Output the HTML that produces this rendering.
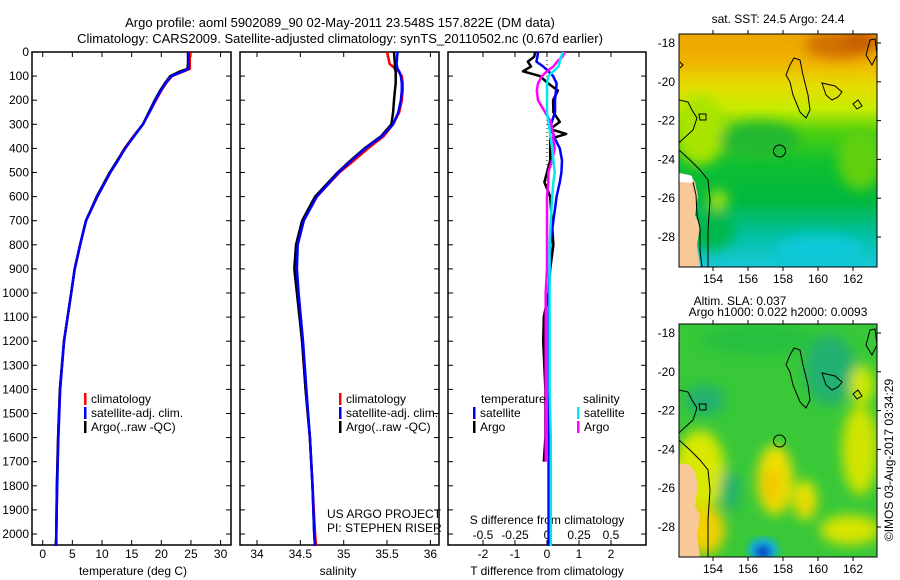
<!DOCTYPE html>
<html><head><meta charset="utf-8"><style>
body{margin:0;background:#fff;}
svg{display:block;font-family:"Liberation Sans",sans-serif;}
text{fill:#000;}
</style></head><body>
<svg id="chart" width="900" height="580" viewBox="0 0 900 580" xmlns="http://www.w3.org/2000/svg">
<defs>
<linearGradient id="sstGrad" x1="0" y1="0" x2="0" y2="1">
<stop offset="0" stop-color="#eea400"/><stop offset="0.12" stop-color="#f0b400"/><stop offset="0.22" stop-color="#e6dc00"/><stop offset="0.32" stop-color="#c8ec00"/><stop offset="0.42" stop-color="#50d010"/><stop offset="0.55" stop-color="#10c030"/><stop offset="0.72" stop-color="#00b840"/><stop offset="0.86" stop-color="#00c0a0"/><stop offset="1" stop-color="#18c8d8"/>
</linearGradient>
<filter id="blur6"><feGaussianBlur stdDeviation="6"/></filter>
<filter id="blur4"><feGaussianBlur stdDeviation="4"/></filter>
<clipPath id="clipMap1"><rect x="679" y="34" width="198" height="233"/></clipPath>
<clipPath id="clipMap2"><rect x="679" y="324" width="198" height="233"/></clipPath>
</defs>
<text x="340" y="27" text-anchor="middle" font-size="13">Argo profile: aoml 5902089_90 02-May-2011 23.548S 157.822E (DM data)</text>
<text x="340" y="43" text-anchor="middle" font-size="13">Climatology: CARS2009. Satellite-adjusted climatology: synTS_20110502.nc (0.67d earlier)</text>
<g id="g1"></g>
<g id="g2"></g>
<g id="g3"></g>

<g>
<g clip-path="url(#clipMap1)">
<rect x="679" y="34" width="198" height="233" fill="url(#sstGrad)"/>
<g filter="url(#blur6)">
<ellipse cx="840" cy="45" rx="35" ry="14" fill="#d07000"/>
<ellipse cx="860" cy="40" rx="18" ry="10" fill="#c85a00"/>
<ellipse cx="700" cy="130" rx="25" ry="35" fill="#a8e400"/>
<ellipse cx="760" cy="140" rx="40" ry="18" fill="#20b830"/>
<ellipse cx="860" cy="160" rx="22" ry="30" fill="#60d010"/>
<ellipse cx="718" cy="200" rx="10" ry="10" fill="#a0e010"/>
<ellipse cx="820" cy="250" rx="45" ry="15" fill="#10c8d8"/>
<ellipse cx="710" cy="230" rx="25" ry="20" fill="#00b848"/>
</g>
<polygon points="679,173 690,175 695,182 698,196 695,215 700,226 697,245 700,267 679,267" fill="#f8c898"/>
<polygon points="679,173 692,176 693,183 679,182" fill="#fff"/>
<g fill="none" stroke="#000" stroke-width="1">
<path d="M679,100 L688,102 L692,110 L697,118 L693,130 L682,140 L679,143"/>
<path d="M679,150 L690,160 L700,170 L708,180 L710,200 L708,230 L708,267"/>
<path d="M693,182 L696,195 L697,215 L700,228 L700,250 L702,267"/>
<path d="M794,58 L800,60 L803,75 L808,95 L810,110 L806,118 L800,112 L793,95 L790,82 L786,75 L790,65 Z"/>
<path d="M822,83 L835,86 L842,92 L838,97 L832,100 L826,95 Z"/>
<path d="M853,104 L858,100 L862,106 L857,109 Z"/>
<path d="M699,114 L706,114 L706,120 L700,120 Z"/>
<path d="M870,40 L875,39 L877,55 L872,65 L866,55 Z"/>
<path d="M680,62 L683,65 L680,68"/>
<circle cx="779.5" cy="151" r="6"/>
</g>
</g>
<rect x="679" y="34" width="198" height="233" fill="none" stroke="#000" stroke-width="1"/>
</g>

<g>
<g clip-path="url(#clipMap2)">
<rect x="679" y="324" width="198" height="233" fill="#38c838"/>
<g filter="url(#blur6)">
<ellipse cx="760" cy="340" rx="60" ry="15" fill="#28c040"/>
<ellipse cx="830" cy="370" rx="25" ry="35" fill="#20b070"/>
<ellipse cx="705" cy="400" rx="20" ry="15" fill="#20b070"/>
<ellipse cx="775" cy="480" rx="18" ry="35" fill="#f0e000"/>
<ellipse cx="772" cy="485" rx="10" ry="18" fill="#f0c800"/>
<ellipse cx="805" cy="500" rx="12" ry="20" fill="#e8e400"/>
<ellipse cx="805" cy="505" rx="6" ry="8" fill="#f0d000"/>
<ellipse cx="700" cy="470" rx="25" ry="40" fill="#d8e800"/>
<ellipse cx="705" cy="530" rx="20" ry="25" fill="#f0d000"/>
<ellipse cx="860" cy="450" rx="18" ry="45" fill="#d0e400"/>
<ellipse cx="850" cy="530" rx="30" ry="15" fill="#d8e400"/>
<ellipse cx="730" cy="490" rx="10" ry="20" fill="#20b070"/>
<ellipse cx="862" cy="385" rx="12" ry="20" fill="#d0e800"/>
</g>
<g filter="url(#blur4)">
<ellipse cx="763" cy="550" rx="15" ry="12" fill="#10b0e8"/>
<ellipse cx="763" cy="552" rx="8" ry="7" fill="#1030c0"/>
</g>
<polygon points="679,463 690,465 695,472 698,486 695,505 700,516 697,535 700,557 679,557" fill="#f8c898"/>
<g fill="none" stroke="#000" stroke-width="1">
<path d="M679,390 L688,392 L692,400 L697,408 L693,420 L682,430 L679,433"/>
<path d="M679,440 L690,450 L700,460 L708,470 L710,490 L708,520 L708,557"/>
<path d="M794,348 L800,350 L803,365 L808,385 L810,400 L806,408 L800,402 L793,385 L790,372 L786,365 L790,355 Z"/>
<path d="M822,373 L835,376 L842,382 L838,387 L832,390 L826,385 Z"/>
<path d="M853,394 L858,390 L862,396 L857,399 Z"/>
<path d="M699,404 L706,404 L706,410 L700,410 Z"/>
<path d="M870,330 L875,329 L877,345 L872,355 L866,345 Z"/>
<circle cx="779.5" cy="441" r="6"/>
</g>
</g>
<rect x="679" y="324" width="198" height="233" fill="none" stroke="#000" stroke-width="1"/>
</g>

<text x="778" y="23" text-anchor="middle" font-size="12">sat. SST: 24.5 Argo: 24.4</text>
<text x="740" y="305" text-anchor="middle" font-size="12">Altim. SLA: 0.037</text>
<text x="778" y="316" text-anchor="middle" font-size="12">Argo h1000: 0.022 h2000: 0.0093</text>
<text transform="translate(893,460) rotate(-90)" text-anchor="middle" font-size="12">©IMOS 03-Aug-2017 03:34:29</text>
<g id="mapAxes"></g>
</svg>
<script>
// ---- data ----
const depths = [0,50,70,80,100,130,160,200,250,300,350,400,450,500,600,700,800,900,1000,1200,1400,1600,1800,2000,2050];
const tempClim = [24.8,24.8,24.8,23.8,21.8,20.8,20.0,19.1,18.0,16.9,15.3,13.8,12.6,11.4,9.2,7.3,6.3,5.4,4.8,3.6,2.9,2.6,2.4,2.3,2.3];
const tempSat  = [24.6,24.6,24.6,23.7,21.7,20.7,19.9,19.0,18.0,16.9,15.4,13.9,12.7,11.4,9.2,7.3,6.3,5.4,4.8,3.6,2.95,2.65,2.45,2.3,2.3];
const tempArgo = [24.5,24.5,24.4,23.2,21.5,20.6,19.8,18.9,17.9,16.9,15.4,13.9,12.6,11.3,9.1,7.3,6.3,5.4,4.8,3.6,2.9,2.6,2.4,2.3,2.2];
const salClim = [35.5,35.53,35.6,35.63,35.67,35.68,35.68,35.67,35.64,35.57,35.46,35.28,35.12,34.95,34.69,34.53,34.46,34.45,34.47,34.52,34.56,34.61,34.64,34.67,34.68];
const salSat  = [35.62,35.61,35.62,35.64,35.66,35.67,35.67,35.66,35.63,35.57,35.44,35.25,35.09,34.94,34.69,34.54,34.47,34.46,34.48,34.53,34.57,34.61,34.64,34.66,34.67];
const salArgo = [35.58,35.59,35.59,35.6,35.6,35.6,35.59,35.58,35.57,35.55,35.43,35.24,35.08,34.93,34.67,34.52,34.45,34.43,34.46,34.52,34.56,34.61,34.64,34.66,34.67];
const diffDepths = [0,20,40,60,80,100,130,160,200,250,290,320,340,360,400,450,500,540,600,700,800,900,1000,1100,1200,1400,1600,1700,2050];
const dTArgo = [-0.37,-0.4,-0.6,-0.5,-0.75,-0.22,0.03,0.34,0.19,0.2,0.4,0.1,0.6,0.1,0.1,0.1,0,-0.08,0.1,0.15,0.2,0.1,0.05,-0.1,-0.12,-0.05,-0.05,-0.1,null];
const dTSat  = [-0.28,-0.3,-0.33,-0.12,0.05,0.19,0.3,0.28,0.25,0.25,0.15,0.1,0.2,0.25,0.4,0.47,0.45,0.4,0.3,0.2,0.1,0.08,0.06,0.05,0.05,0.05,0.05,0.05,0.05];
const dSArgo = [0.14,0.12,0.08,0.05,0.0,-0.04,-0.07,-0.08,-0.07,-0.015,0.03,0.04,0.05,0.05,0.06,0.04,0.01,0.01,0,0,0,0,-0.01,-0.01,-0.01,-0.01,-0.01,-0.01,null];
const dSSat  = [0.125,0.11,0.1,0.09,0.05,0.01,0.0,0.0,0.0,0.0,0.01,0.02,0.025,0.03,0.04,0.05,0.06,0.05,0.04,0.03,0.02,0.02,0.02,0.02,0.02,0.02,0.03,0.03,0.03];
const depthTicks = [0,100,200,300,400,500,600,700,800,900,1000,1100,1200,1300,1400,1500,1600,1700,1800,1900,2000];
const tempTicks = [0,5,10,15,20,25,30];
const salTicks = [34,34.5,35,35.5,36];
const tdTicks = [-2,-1,0,1,2];
const sdTicks = [-0.5,-0.25,0,0.25,0.5];
const lonTicks = [154,156,158,160,162];
const latTicks = [-18,-20,-22,-24,-26,-28];

const NS='http://www.w3.org/2000/svg';
function mk(tag, attrs, parent, txt){const e=document.createElementNS(NS,tag);for(const k in attrs)e.setAttribute(k,attrs[k]);if(txt!==undefined)e.textContent=txt;parent.appendChild(e);return e;}
const yD = d => 52 + d*0.241;
const yTop=52, yBot=545;
const xT = t => 42.7 + t*5.93;
const xS = s => 257 + (s-34)*86.7;
const xTd = v => 547 + v*32;
const xSd = v => 547 + v*128;

function frame(g,x0,x1){
  const r=mk('rect',{x:x0,y:yTop,width:x1-x0,height:yBot-yTop,fill:'none',stroke:'#000','stroke-width':1.5},g);
  
  
  depthTicks.forEach(d=>{
    mk('line',{x1:x0,x2:x0+5,y1:yD(d),y2:yD(d),stroke:'#000'},g);
    mk('line',{x1:x1,x2:x1-5,y1:yD(d),y2:yD(d),stroke:'#000'},g);
  });
}
function line(g,xs,ys,fx,color,name,w){
  let d='',pen=false;
  xs.forEach((v,i)=>{ if(v===null){pen=false;return;} d+=(pen?'L':'M')+fx(v).toFixed(1)+','+yD(ys[i]).toFixed(1); pen=true;});
  const p=mk('path',{d:d,fill:'none',stroke:color,'stroke-width':w||2.5,'stroke-linejoin':'round'},g);
  
  
}
function xticks(g,ticks,fx,labelY,name){
  ticks.forEach(t=>{
    const x=fx(t);
    mk('line',{x1:x,x2:x,y1:yTop,y2:yTop+5,stroke:'#000'},g);
    mk('line',{x1:x,x2:x,y1:yBot,y2:yBot-5,stroke:'#000'},g);
    const tx=mk('text',{x:x,y:labelY,'text-anchor':'middle','font-size':12},g,String(t));
    
    
  });
}
function legend(g,x,y,items){
  items.forEach((it,i)=>{
    mk('rect',{x:x,y:y+i*14-10,width:2.5,height:12,fill:it[1]},g);
    const t=mk('text',{x:x+7,y:y+i*14,'font-size':12},g,it[0]);
    
    
  });
}
// panel 1
const g1=document.getElementById('g1');
frame(g1,32,231);
depthTicks.forEach(d=>{const t=mk('text',{x:29,y:yD(d)+4,'text-anchor':'end','font-size':12},g1,String(d));
  
  });
xticks(g1,tempTicks,xT,558,'temperature-tick-label');
mk('text',{x:133,y:575,'text-anchor':'middle','font-size':12},g1,'temperature (deg C)');
line(g1,tempClim,depths,xT,'#ff0000','temperature-climatology-line');
line(g1,tempArgo,depths,xT,'#000000','temperature-argo-line');
line(g1,tempSat,depths,xT,'#0000ff','temperature-satellite-line');
legend(g1,84,403,[['climatology','#f00'],['satellite-adj. clim.','#00f'],['Argo(..raw -QC)','#000']]);
// panel 2
const g2=document.getElementById('g2');
frame(g2,240,439);
xticks(g2,salTicks,xS,558,'salinity-tick-label');
mk('text',{x:338,y:575,'text-anchor':'middle','font-size':12},g2,'salinity');
line(g2,salClim,depths,xS,'#ff0000','salinity-climatology-line');
line(g2,salArgo,depths,xS,'#000000','salinity-argo-line');
line(g2,salSat,depths,xS,'#0000ff','salinity-satellite-line');
legend(g2,339,403,[['climatology','#f00'],['satellite-adj. clim.','#00f'],['Argo(..raw -QC)','#000']]);
mk('text',{x:327,y:518,'font-size':12},g2,'US ARGO PROJECT');
mk('text',{x:327,y:532,'font-size':12},g2,'PI: STEPHEN RISER');
// panel 3
const g3=document.getElementById('g3');
frame(g3,448,646);
xticks(g3,tdTicks,xTd,558,'t-diff-tick-label');
sdTicks.forEach(t=>{const tx=mk('text',{x:xSd(t),y:539,'text-anchor':'middle','font-size':12},g3,String(t));
  
  });
mk('text',{x:547,y:575,'text-anchor':'middle','font-size':12},g3,'T difference from climatology');
mk('text',{x:547,y:524,'text-anchor':'middle','font-size':12},g3,'S difference from climatology');
mk('line',{x1:547,x2:547,y1:yD(0),y2:yD(900),stroke:'#000','stroke-dasharray':'1,3'},g3);
line(g3,dTArgo,diffDepths,xTd,'#000000','t-diff-argo-line');
line(g3,dTSat,diffDepths,xTd,'#0000ff','t-diff-satellite-line');
line(g3,dSArgo,diffDepths,xSd,'#ff00ff','s-diff-argo-line');
line(g3,dSSat,diffDepths,xSd,'#00e8f0','s-diff-satellite-line');
mk('text',{x:481,y:403,'font-size':12},g3,'temperature');
mk('text',{x:583,y:403,'font-size':12},g3,'salinity');
legend(g3,473,417,[['satellite','#00f'],['Argo','#000']]);
legend(g3,577,417,[['satellite','#00e8f0'],['Argo','#ff00ff']]);
// map axes
const ma=document.getElementById('mapAxes');
[[34,267],[324,557]].forEach(([y0,y1])=>{
  lonTicks.forEach(l=>{const x=713+(l-154)*17.5;
    mk('line',{x1:x,x2:x,y1:y0-4,y2:y0,stroke:'#000'},ma);
    mk('line',{x1:x,x2:x,y1:y1,y2:y1+4,stroke:'#000'},ma);
    const t=mk('text',{x:x,y:y1+16,'text-anchor':'middle','font-size':12},ma,String(l));
    
    });
  latTicks.forEach(l=>{const y=y0+9+(-18-l)*19.4;
    mk('line',{x1:877,x2:881,y1:y,y2:y,stroke:'#000'},ma);
    const t=mk('text',{x:675,y:y+4,'text-anchor':'end','font-size':12},ma,String(l));
    
    });
});
</script>
</body></html>
